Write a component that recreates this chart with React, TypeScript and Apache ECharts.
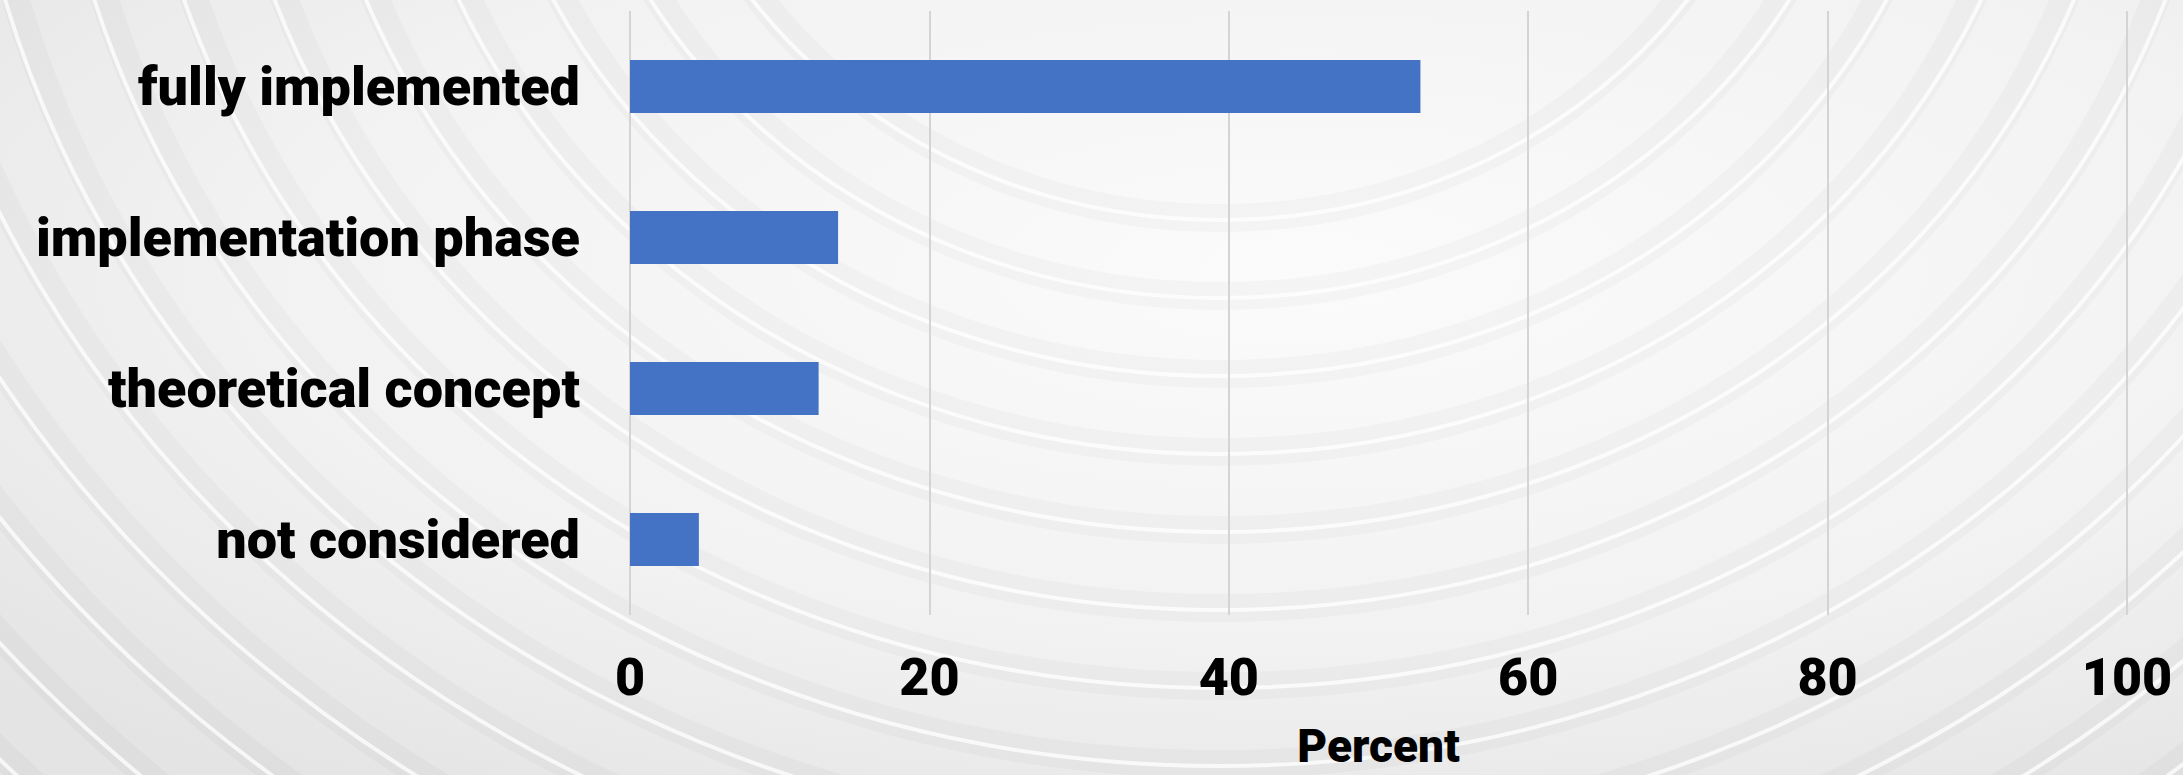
import React, { useEffect, useRef } from "react";
import * as echarts from "echarts";

const categories = ["fully implemented", "implementation phase", "theoretical concept", "not considered"];
const values = [52.8, 13.9, 12.6, 4.6];
const xTicks = [0, 20, 40, 60, 80, 100];
const xAxisName = "Percent";

const FONT = 'Roboto, "Liberation Sans", sans-serif';

function buildBackground() {
  const els: any[] = [];
  const cx = 1220;
  const cy = -300;
  for (let i = 0; i < 16; i++) {
    const r = 520 + i * 78;
    els.push({
      type: "ellipse",
      silent: true,
      z: -10,
      shape: { cx, cy: cy + 10, rx: (r - 12) * 1.1, ry: r - 12 },
      style: { fill: "none", stroke: "rgba(0,0,0,0.025)", lineWidth: 28 },
    });
    els.push({
      type: "ellipse",
      silent: true,
      z: -9,
      shape: { cx, cy, rx: r * 1.1, ry: r },
      style: { fill: "none", stroke: "rgba(255,255,255,0.75)", lineWidth: 4 },
    });
  }
  return els;
}

export default function App() {
  const ref = useRef<HTMLDivElement>(null);
  useEffect(() => {
    document.body.style.margin = "0";
    const chart = echarts.init(ref.current!, undefined, { renderer: "svg" });
    chart.setOption({
      animation: false,
      backgroundColor: {
        type: "radial",
        x: 0.6,
        y: 0.35,
        r: 0.8,
        colorStops: [
          { offset: 0, color: "#fbfbfb" },
          { offset: 0.6, color: "#f2f2f2" },
          { offset: 1, color: "#e4e4e4" },
        ],
      },
      graphic: buildBackground(),
      grid: { left: 630, right: 56, top: 11, bottom: 160, containLabel: false, outerBoundsMode: "none" },
      xAxis: {
        type: "value",
        min: 0,
        max: 100,
        interval: 20,
        name: xAxisName,
        nameLocation: "middle",
        nameGap: 108,
        nameTextStyle: { fontFamily: FONT, fontWeight: 900, fontSize: 46, lineHeight: 46, color: "#000" },
        axisLine: { show: false },
        axisTick: { show: false },
        axisLabel: {
          fontFamily: FONT,
          fontWeight: 900,
          fontSize: 52,
          color: "#000",
          margin: 36,
          formatter: (v: number) => (xTicks.includes(v) ? String(v) : ""),
        },
        splitLine: { show: true, lineStyle: { color: "#d4d4d4", width: 2 } },
      },
      yAxis: {
        type: "category",
        data: categories,
        inverse: true,
        axisLine: { show: false },
        axisTick: { show: false },
        axisLabel: {
          fontFamily: FONT,
          fontWeight: 900,
          fontSize: 54,
          color: "#000",
          margin: 50,
        },
        splitLine: { show: false },
      },
      series: [
        {
          type: "bar",
          data: values,
          barWidth: 53,
          itemStyle: { color: "#4472C4" },
          z: 5,
        },
      ],
    });
    return () => chart.dispose();
  }, []);
  return <div ref={ref} style={{ width: 2183, height: 775 }} />;
}
